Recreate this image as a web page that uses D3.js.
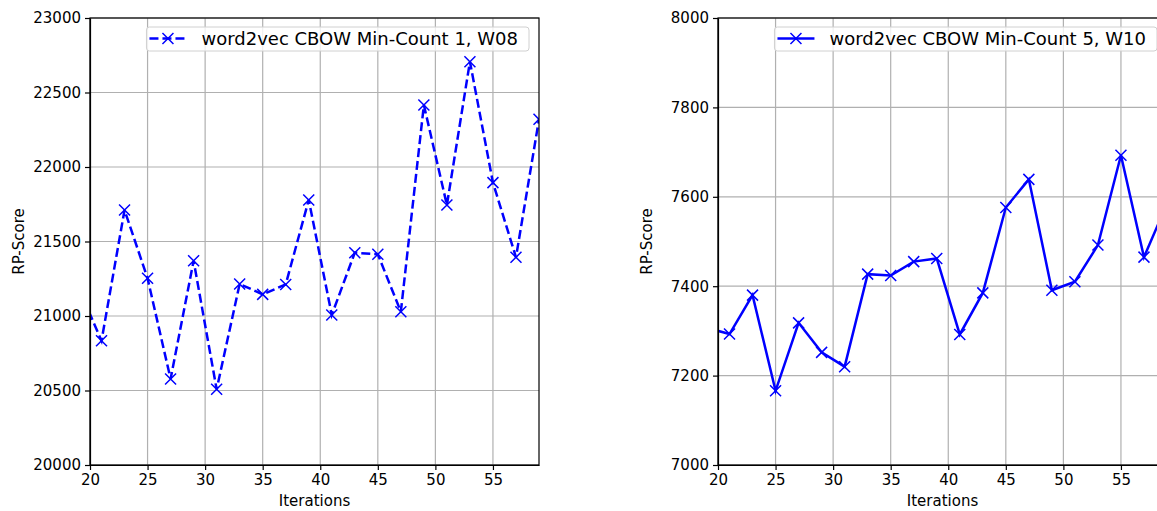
<!DOCTYPE html>
<html lang="en">
<head>
    <meta charset="UTF-8">
    <title>RP-Score vs Iterations</title>
    <script src="https://d3js.org/d3.v7.min.js"></script>
    <style>
        body { margin: 0; background: #fff; }
        svg { display: block; font-family: "DejaVu Sans", sans-serif; }
        .grid line { stroke: #b0b0b0; stroke-width: 1.2px; }
        .axis text { font-family: "DejaVu Sans", sans-serif; font-size: 15px; fill: #000; }
        .axis path, .axis line { stroke: #000; stroke-width: 1.2px; }
    </style>
</head>
<body>
    <script>
        // Data (iterations 19..59, odd steps)
        const iterations = [19, 21, 23, 25, 27, 29, 31, 33, 35, 37, 39, 41, 43, 45, 47, 49, 51, 53, 55, 57, 59];
        const scoresMC1 = [21190, 20834, 21711, 21253, 20577, 21371, 20508, 21215, 21145, 21212, 21779,
                           21007, 21425, 21414, 21029, 22416, 21745, 22707, 21895, 21394, 22320];
        const scoresMC5 = [7307, 7293, 7380, 7166, 7318, 7252, 7220, 7427, 7424, 7455, 7462,
                           7292, 7385, 7576, 7639, 7391, 7410, 7492, 7693, 7465, 7585];
        const xTicks = [20, 25, 30, 35, 40, 45, 50, 55];

        const svg = d3.select("body").append("svg")
            .attr("width", 1157)
            .attr("height", 511);

        const panels = [
            { left: 90, values: scoresMC1, yDomain: [20000, 23000], yTicks: d3.range(20000, 23001, 500),
              label: "word2vec CBOW Min-Count 1, W08", dashed: true },
            { left: 718, values: scoresMC5, yDomain: [7000, 8000], yTicks: d3.range(7000, 8001, 200),
              label: "word2vec CBOW Min-Count 5, W10", dashed: false }
        ];
        const plotTop = 18, plotBottom = 465, plotW = 449;

        panels.forEach((p, idx) => {
            const x = d3.scaleLinear().domain([20, 59]).range([p.left, p.left + plotW]);
            const y = d3.scaleLinear().domain(p.yDomain).range([plotBottom, plotTop]);
            const g = svg.append("g");

            // clip region
            const clipId = "clip" + idx;
            svg.append("clipPath").attr("id", clipId)
               .append("rect")
               .attr("x", p.left).attr("y", plotTop)
               .attr("width", plotW).attr("height", plotBottom - plotTop);

            // grid
            const grid = g.append("g").attr("class", "grid");
            grid.selectAll(".vx").data(xTicks).enter().append("line")
                .attr("x1", d => x(d)).attr("x2", d => x(d))
                .attr("y1", plotTop).attr("y2", plotBottom);
            grid.selectAll(".hy").data(p.yTicks).enter().append("line")
                .attr("x1", p.left).attr("x2", p.left + plotW)
                .attr("y1", d => y(d)).attr("y2", d => y(d));

            // line + markers
            const data = iterations.map((it, i) => [it, p.values[i]]);
            const plot = g.append("g").attr("clip-path", `url(#${clipId})`);
            plot.append("path")
                .datum(data)
                .attr("fill", "none")
                .attr("stroke", "#0000ff")
                .attr("stroke-width", 2.5)
                .attr("stroke-dasharray", p.dashed ? "9,4" : null)
                .attr("d", d3.line().x(d => x(d[0])).y(d => y(d[1])));
            const m = 5.5;
            plot.selectAll(".mk").data(data).enter().append("path")
                .attr("fill", "none")
                .attr("stroke", "#0000ff")
                .attr("stroke-width", 1.5)
                .attr("d", d => {
                    const cx = x(d[0]), cy = y(d[1]);
                    return `M${cx - m},${cy - m}L${cx + m},${cy + m}M${cx - m},${cy + m}L${cx + m},${cy - m}`;
                });

            // axes
            g.append("g").attr("class", "axis")
                .attr("transform", `translate(0,${plotBottom})`)
                .call(d3.axisBottom(x).tickValues(xTicks).tickSize(5).tickPadding(4).tickSizeOuter(0));
            g.append("g").attr("class", "axis")
                .attr("transform", `translate(${p.left},0)`)
                .call(d3.axisLeft(y).tickValues(p.yTicks).tickSize(5).tickPadding(4).tickSizeOuter(0).tickFormat(d3.format("d")));
            // frame
            g.append("rect")
                .attr("x", p.left).attr("y", plotTop)
                .attr("width", plotW).attr("height", plotBottom - plotTop)
                .attr("fill", "none").attr("stroke", "#000").attr("stroke-width", 1.2);

            // axis labels
            g.append("text")
                .attr("x", p.left + plotW / 2).attr("y", 506)
                .attr("text-anchor", "middle").attr("font-size", 15)
                .text("Iterations");
            g.append("text")
                .attr("transform", `translate(${p.left - 66},${(plotTop + plotBottom) / 2}) rotate(-90)`)
                .attr("text-anchor", "middle").attr("font-size", 15)
                .text("RP-Score");

            // legend
            const lg = g.append("g");
            const txt = lg.append("text")
                .attr("font-size", 18)
                .attr("y", 45)
                .text(p.label);
            const tw = txt.node().getComputedTextLength();
            const boxRight = p.left + plotW - 10;
            const boxW = tw + 66;
            const boxLeft = boxRight - boxW;
            txt.attr("x", boxLeft + 55);
            lg.insert("rect", "text")
                .attr("x", boxLeft).attr("y", 27)
                .attr("width", boxW).attr("height", 24)
                .attr("rx", 3)
                .attr("fill", "rgba(255,255,255,0.8)")
                .attr("stroke", "#d0d0d0");
            lg.append("line")
                .attr("x1", boxLeft + 3).attr("x2", boxLeft + 40)
                .attr("y1", 38.5).attr("y2", 38.5)
                .attr("stroke", "#0000ff").attr("stroke-width", 2.5)
                .attr("stroke-dasharray", p.dashed ? "9,4" : null);
            const lx = boxLeft + 21.5, ly = 38.5;
            lg.append("path")
                .attr("fill", "none").attr("stroke", "#0000ff").attr("stroke-width", 1.5)
                .attr("d", `M${lx - m},${ly - m}L${lx + m},${ly + m}M${lx - m},${ly + m}L${lx + m},${ly - m}`);
        });
    </script>
</body>
</html>
